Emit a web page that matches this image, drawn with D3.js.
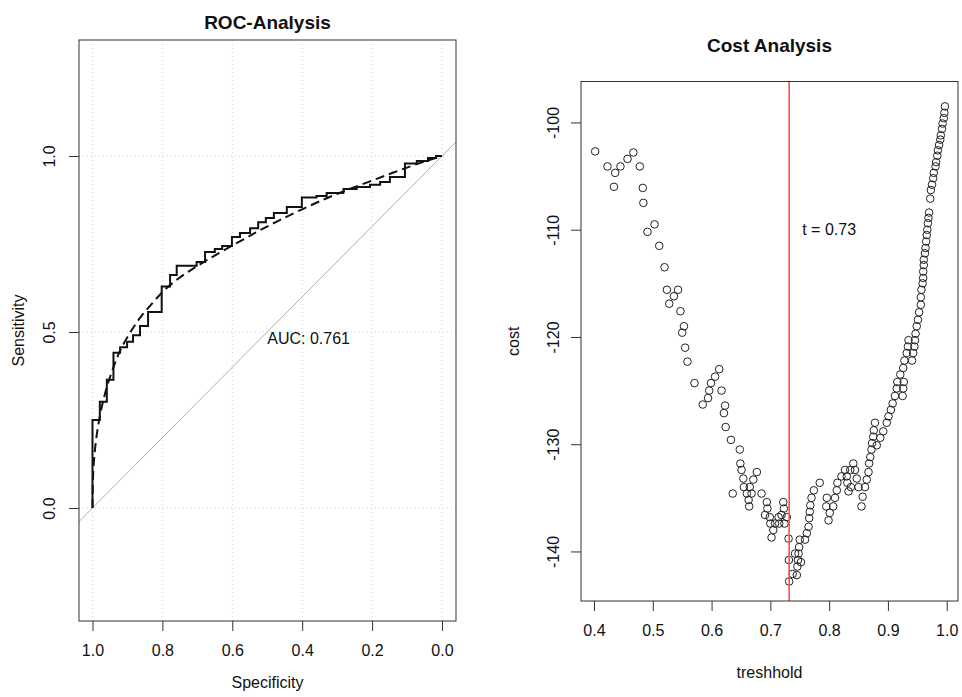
<!DOCTYPE html>
<html>
<head>
<meta charset="utf-8">
<script src="https://cdn.jsdelivr.net/npm/d3@7"></script>
<style>
  body { margin: 0; background: #fff; }
  svg { font-family: "Liberation Sans", Arial, sans-serif; }
  .tick line { stroke: #333; }
  .tick text { font-size: 16px; fill: #111; }
  .grid { stroke: #d0d0d0; stroke-dasharray: 1,3; }
  .box { fill: none; stroke: #333; }
  .label { font-size: 16px; fill: #111; }
  .title { font-size: 19px; font-weight: bold; fill: #111; }
</style>
</head>
<body>
<svg width="962" height="697"></svg>
<script>
// empirical roc curve, step corners (specificity, sensitivity)
const rocSpecificity = [1.000, 0.979, 0.959, 0.940, 0.921, 0.901, 0.884, 0.864, 0.841, 0.802,
  0.778, 0.759, 0.702, 0.678, 0.650, 0.629, 0.601, 0.578, 0.549, 0.526,
  0.504, 0.481, 0.444, 0.401, 0.359, 0.330, 0.282, 0.244, 0.206, 0.177,
  0.149, 0.106, 0.072, 0.040, 0.017, 0.000];
const rocSensitivity = [0.000, 0.250, 0.302, 0.364, 0.441, 0.457, 0.472, 0.491, 0.517, 0.557,
  0.629, 0.662, 0.688, 0.699, 0.727, 0.736, 0.744, 0.770, 0.781, 0.795,
  0.812, 0.824, 0.838, 0.855, 0.882, 0.886, 0.895, 0.906, 0.912, 0.918,
  0.926, 0.940, 0.979, 0.986, 0.994, 1.000];

// smoothed roc curve
const smoothSpecificity = [1.000, 0.998, 0.993, 0.986, 0.975, 0.960, 0.941, 0.921, 0.893, 0.864,
  0.826, 0.793, 0.750, 0.712, 0.673, 0.626, 0.559, 0.521, 0.464, 0.397,
  0.330, 0.273, 0.206, 0.139, 0.072, 0.000];
const smoothSensitivity = [0.000, 0.100, 0.165, 0.220, 0.280, 0.340, 0.397, 0.447, 0.497, 0.540,
  0.585, 0.620, 0.655, 0.680, 0.704, 0.731, 0.768, 0.789, 0.818, 0.850,
  0.880, 0.903, 0.928, 0.953, 0.977, 1.000];

const aucValue = 0.761;
const rocTicksX = [1.0, 0.8, 0.6, 0.4, 0.2, 0.0];
const rocTicksY = [0.0, 0.5, 1.0];

// cost per threshold
const thresholds = [0.402, 0.423, 0.434, 0.436, 0.445, 0.457, 0.467, 0.478, 0.483, 0.484,
  0.491, 0.503, 0.511, 0.520, 0.524, 0.528, 0.536, 0.543, 0.547, 0.550,
  0.553, 0.555, 0.559, 0.571, 0.585, 0.594, 0.596, 0.599, 0.606, 0.613,
  0.617, 0.621, 0.623, 0.624, 0.633, 0.636, 0.648, 0.649, 0.651, 0.654,
  0.655, 0.660, 0.663, 0.664, 0.665, 0.668, 0.671, 0.677, 0.685, 0.691,
  0.694, 0.695, 0.699, 0.700, 0.702, 0.705, 0.708, 0.714, 0.715, 0.719,
  0.722, 0.723, 0.724, 0.728, 0.731, 0.7315, 0.732, 0.738, 0.742, 0.745,
  0.746, 0.747, 0.748, 0.749, 0.750, 0.752, 0.759, 0.762, 0.765, 0.766,
  0.767, 0.768, 0.770, 0.774, 0.784, 0.795, 0.796, 0.799, 0.801, 0.807,
  0.810, 0.813, 0.814, 0.821, 0.827, 0.830, 0.831, 0.833, 0.836, 0.837,
  0.841, 0.844, 0.847, 0.850, 0.855, 0.857, 0.861, 0.864, 0.867, 0.868,
  0.870, 0.872, 0.873, 0.875, 0.876, 0.878, 0.881, 0.887, 0.892, 0.898,
  0.901, 0.905, 0.908, 0.912, 0.915, 0.916, 0.921, 0.925, 0.926, 0.926,
  0.927, 0.928, 0.932, 0.934, 0.935, 0.941, 0.943, 0.945, 0.946, 0.947,
  0.949, 0.951, 0.953, 0.956, 0.956, 0.957, 0.959, 0.960, 0.960, 0.961,
  0.961, 0.963, 0.964, 0.965, 0.966, 0.967, 0.968, 0.969, 0.970, 0.972,
  0.973, 0.975, 0.977, 0.978, 0.981, 0.982, 0.984, 0.985, 0.987, 0.989,
  0.990, 0.992, 0.993, 0.995, 0.996, 0.997];
const costs = [-102.7, -104.1, -106.0, -104.7, -104.1, -103.4, -102.8, -104.1, -106.1, -107.5,
  -110.2, -109.5, -111.5, -113.5, -115.6, -116.9, -116.2, -115.6, -117.6, -119.6,
  -119.0, -121.0, -122.3, -124.3, -126.3, -125.7, -125.0, -124.3, -123.7, -123.0,
  -125.0, -127.1, -126.4, -128.4, -129.6, -134.6, -130.5, -131.8, -132.4, -133.2,
  -134.0, -134.6, -135.2, -135.8, -134.0, -134.6, -133.3, -132.6, -134.6, -136.6,
  -135.4, -136.0, -136.8, -137.4, -138.7, -138.0, -137.4, -136.8, -137.4, -136.6,
  -135.4, -136.0, -137.4, -136.8, -138.8, -140.8, -142.8, -142.1, -140.2, -142.2,
  -141.4, -140.8, -140.2, -139.6, -138.9, -141.0, -138.9, -138.3, -137.7, -136.9,
  -136.3, -135.7, -135.0, -134.3, -133.6, -135.8, -135.0, -137.1, -136.4, -135.8,
  -135.0, -134.3, -133.6, -133.0, -132.4, -133.0, -133.6, -134.4, -132.4, -134.0,
  -131.8, -132.4, -133.2, -134.0, -135.8, -134.9, -134.0, -133.3, -132.6, -131.8,
  -131.2, -130.5, -129.9, -129.3, -128.7, -128.0, -130.1, -129.4, -128.8, -128.0,
  -127.4, -126.8, -126.2, -125.5, -124.8, -124.2, -123.5, -125.5, -124.8, -122.9,
  -124.2, -122.2, -121.5, -120.9, -120.3, -122.2, -121.5, -120.9, -120.3, -119.7,
  -119.0, -118.4, -117.7, -117.0, -116.3, -115.6, -115.0, -114.5, -113.9, -113.3,
  -112.8, -112.2, -111.7, -111.1, -110.5, -110.0, -109.4, -108.9, -108.4, -107.1,
  -106.3, -105.8, -105.2, -104.7, -104.1, -103.7, -103.1, -102.6, -102.1, -101.6,
  -101.2, -100.6, -100.1, -99.6, -99.1, -98.5];

const bestThreshold = 0.732;
const costTicksX = [0.4, 0.5, 0.6, 0.7, 0.8, 0.9, 1.0];
const costTicksY = [-100, -110, -120, -130, -140];

const svg = d3.select("svg");
svg.append("rect").attr("width", 962).attr("height", 697).attr("fill", "#fff");

// ---------- roc panel ----------
const roc = { left: 79, right: 456, top: 40, bottom: 621 };
const xRoc = d3.scaleLinear().domain([1.0386, -0.0401]).range([roc.left, roc.right]);
const yRoc = d3.scaleLinear().domain([-0.321, 1.3295]).range([roc.bottom, roc.top]);

const rocG = svg.append("g");

// dotted grid
rocG.selectAll(".gx").data(rocTicksX).enter().append("line")
  .attr("class", "grid")
  .attr("x1", d => xRoc(d)).attr("x2", d => xRoc(d))
  .attr("y1", roc.top).attr("y2", roc.bottom);
rocG.selectAll(".gy").data(rocTicksY).enter().append("line")
  .attr("class", "grid")
  .attr("x1", roc.left).attr("x2", roc.right)
  .attr("y1", d => yRoc(d)).attr("y2", d => yRoc(d));

// chance diagonal, clipped to the box
const xd = xRoc.domain();
rocG.append("line")
  .attr("x1", xRoc(xd[0])).attr("y1", yRoc(1 - xd[0]))
  .attr("x2", xRoc(xd[1])).attr("y2", yRoc(1 - xd[1]))
  .attr("stroke", "#b0b0b0").attr("stroke-width", 1);

// smoothed curve (dashed)
const smoothLine = d3.line()
  .curve(d3.curveCatmullRom)
  .x(d => xRoc(d[0]))
  .y(d => yRoc(d[1]));
rocG.append("path")
  .datum(smoothSpecificity.map((s, i) => [s, smoothSensitivity[i]]))
  .attr("d", smoothLine)
  .attr("fill", "none").attr("stroke", "#111")
  .attr("stroke-width", 2).attr("stroke-dasharray", "9,5");

// empirical curve (steps)
const stepLine = d3.line()
  .curve(d3.curveStepBefore)
  .x(d => xRoc(d[0]))
  .y(d => yRoc(d[1]));
rocG.append("path")
  .datum(rocSpecificity.map((s, i) => [s, rocSensitivity[i]]))
  .attr("d", stepLine)
  .attr("fill", "none").attr("stroke", "#111")
  .attr("stroke-width", 2);

rocG.append("text")
  .attr("class", "label")
  .attr("x", xRoc(0.5)).attr("y", yRoc(0.5))
  .attr("dy", "0.74em")
  .text("AUC: " + aucValue.toFixed(3));

// axes
rocG.append("g")
  .attr("transform", "translate(0," + roc.bottom + ")")
  .call(d3.axisBottom(xRoc).tickValues(rocTicksX).tickFormat(d3.format(".1f")).tickSize(10).tickPadding(14))
  .call(g => g.select(".domain").remove());
const rocY = rocG.append("g")
  .attr("transform", "translate(" + roc.left + ",0)")
  .call(d3.axisLeft(yRoc).tickValues(rocTicksY).tickFormat(d3.format(".1f")).tickSize(10))
  .call(g => g.select(".domain").remove());
rocY.selectAll(".tick text")
  .attr("x", 0).attr("dy", null)
  .attr("text-anchor", "middle")
  .attr("transform", "translate(-30,0) rotate(-90)")
  .attr("y", 0).attr("dy", "0.35em");

rocG.append("rect").attr("class", "box")
  .attr("x", roc.left).attr("y", roc.top)
  .attr("width", roc.right - roc.left).attr("height", roc.bottom - roc.top);

rocG.append("text").attr("class", "title")
  .attr("x", (roc.left + roc.right) / 2).attr("y", 22).attr("dy", "0.35em")
  .attr("text-anchor", "middle").text("ROC-Analysis");
rocG.append("text").attr("class", "label")
  .attr("x", (roc.left + roc.right) / 2).attr("y", 682).attr("dy", "0.35em")
  .attr("text-anchor", "middle").text("Specificity");
rocG.append("text").attr("class", "label")
  .attr("transform", "translate(18," + (roc.top + roc.bottom) / 2 + ") rotate(-90)")
  .attr("dy", "0.35em")
  .attr("text-anchor", "middle").text("Sensitivity");

// ---------- cost panel ----------
const cp = { left: 581, right: 958, top: 81.5, bottom: 601 };
const xCost = d3.scaleLinear().domain([0.3779, 1.0192]).range([cp.left, cp.right]);
const yCost = d3.scaleLinear().domain([-144.62, -96.18]).range([cp.bottom, cp.top]);

const costG = svg.append("g");

costG.selectAll("circle")
  .data(thresholds.map((t, i) => [t, costs[i]]))
  .enter()
  .append("circle")
  .attr("cx", d => xCost(d[0]))
  .attr("cy", d => yCost(d[1]))
  .attr("r", 3.8)
  .attr("fill", "none")
  .attr("stroke", "#222")
  .attr("stroke-width", 1);

costG.append("line")
  .attr("x1", xCost(bestThreshold)).attr("x2", xCost(bestThreshold))
  .attr("y1", cp.top).attr("y2", cp.bottom)
  .attr("stroke", "#ff4d4d").attr("stroke-width", 1.6);

costG.append("text").attr("class", "label")
  .attr("x", xCost(0.80)).attr("y", yCost(-110)).attr("dy", "0.35em")
  .attr("text-anchor", "middle")
  .text("t = " + bestThreshold.toFixed(2));

costG.append("g")
  .attr("transform", "translate(0," + cp.bottom + ")")
  .call(d3.axisBottom(xCost).tickValues(costTicksX).tickFormat(d3.format(".1f")).tickSize(10).tickPadding(14))
  .call(g => g.select(".domain").remove());
const costY = costG.append("g")
  .attr("transform", "translate(" + cp.left + ",0)")
  .call(d3.axisLeft(yCost).tickValues(costTicksY).tickSize(10))
  .call(g => g.select(".domain").remove());
costY.selectAll(".tick text")
  .attr("x", 0)
  .attr("text-anchor", "middle")
  .attr("transform", "translate(-28,0) rotate(-90)")
  .attr("y", 0).attr("dy", "0.35em")
  .text(d => "-" + Math.abs(d));

costG.append("rect").attr("class", "box")
  .attr("x", cp.left).attr("y", cp.top)
  .attr("width", cp.right - cp.left).attr("height", cp.bottom - cp.top);

costG.append("text").attr("class", "title")
  .attr("x", (cp.left + cp.right) / 2).attr("y", 45).attr("dy", "0.35em")
  .attr("text-anchor", "middle").text("Cost Analysis");
costG.append("text").attr("class", "label")
  .attr("x", (cp.left + cp.right) / 2).attr("y", 672).attr("dy", "0.35em")
  .attr("text-anchor", "middle").text("treshhold");
costG.append("text").attr("class", "label")
  .attr("transform", "translate(513," + (cp.top + cp.bottom) / 2 + ") rotate(-90)")
  .attr("dy", "0.35em")
  .attr("text-anchor", "middle").text("cost");
</script>
</body>
</html>
